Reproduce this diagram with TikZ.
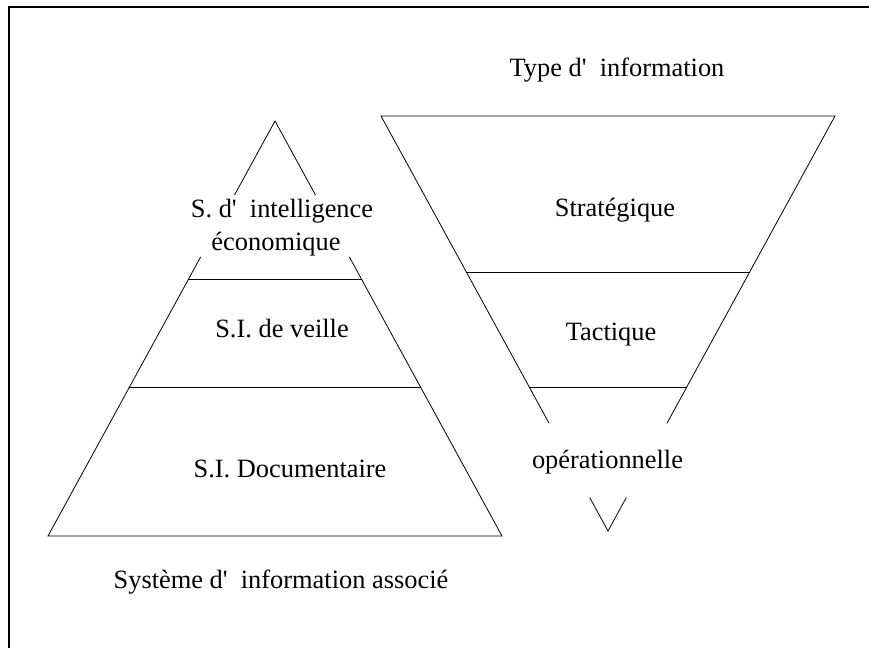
\documentclass[tikz,border=0pt]{standalone}
\usepackage{fontspec}
\newfontfamily\tnr{Liberation Serif}
\usetikzlibrary{calc}
\begin{document}
\begin{tikzpicture}[x=1pt,y=-1pt,
  lbl/.style={inner sep=0pt,anchor=base,font=\tnr\fontsize{26.4}{33}\selectfont},
  edge/.style={line width=0.8pt,line cap=round},
  frame/.style={line width=1.6pt}]
\useasboundingbox (0,0) rectangle (869,648);
% frame (top and left)
\draw[frame] (9,648) -- (9,7) -- (869,7);
% left pyramid
\coordinate (A) at (275,121);
\coordinate (BL) at (48,536);
\coordinate (BR) at (502,536);
\draw[edge] (A) -- ($(A)!0.178!(BL)$);
\draw[edge] (A) -- ($(A)!0.178!(BR)$);
\draw[edge] ($(A)!0.328!(BL)$) -- (BL) -- (BR) -- ($(A)!0.328!(BR)$);
\draw[edge] ($(A)!0.381!(BL)$) -- ($(A)!0.381!(BR)$);
\draw[edge] ($(A)!0.643!(BL)$) -- ($(A)!0.643!(BR)$);
% right funnel
\coordinate (TL) at (381,116);
\coordinate (TR) at (835,116);
\coordinate (V) at (608,531);
\draw[edge] ($(TL)!0.740!(V)$) -- (TL) -- (TR) -- ($(TR)!0.740!(V)$);
\draw[edge] ($(V)!0.080!(TL)$) -- (V) -- ($(V)!0.080!(TR)$);
\draw[edge] ($(TL)!0.376!(V)$) -- ($(TR)!0.376!(V)$);
\draw[edge] ($(TL)!0.653!(V)$) -- ($(TR)!0.653!(V)$);
% labels
\node[lbl] (typ) at (617,76) {Type d'\ \ information};
\node[lbl] (sdi1) at (282,217) {S. d'\ \ intelligence};
\node[lbl] (sdi2) at (276,250) {économique};
\node[lbl] (veille) at (282,337) {S.I. de veille};
\node[lbl] (doc) at (290,477) {S.I. Documentaire};
\node[lbl] (sys) at (281,588) {Système d'\ \ information associé};
\node[lbl] (strat) at (615,216) {Stratégique};
\node[lbl] (tact) at (611,340) {Tactique};
\node[lbl] (oper) at (607.5,468) {opérationnelle};
\end{tikzpicture}
\end{document}
